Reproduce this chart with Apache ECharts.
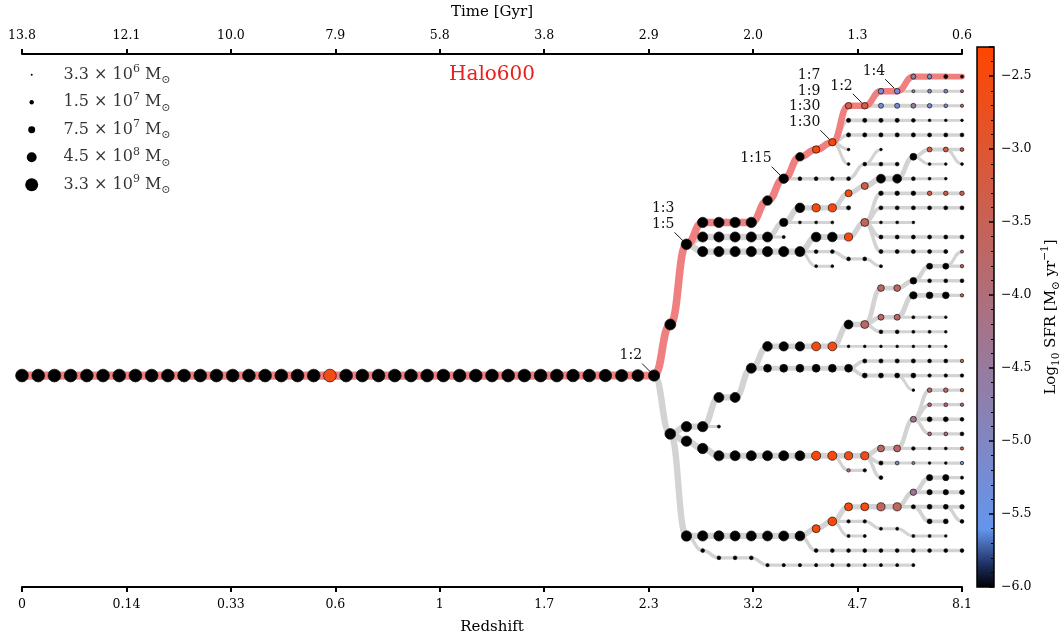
<!DOCTYPE html>
<html><head><meta charset="utf-8">
<script src="https://cdn.jsdelivr.net/npm/echarts@6.0.0/dist/echarts.min.js"></script>
<style>html,body{margin:0;padding:0;background:#fff}#c{width:1064px;height:644px}</style>
</head><body><div id="c"></div>
<script>
// ---------- axis tick labels ----------
const redshiftLabels = ['0','0.14','0.33','0.6','1','1.7','2.3','3.2','4.7','8.1'];
const timeLabels = ['13.8','12.1','10.0','7.9','5.8','3.8','2.9','2.0','1.3','0.6'];
const lastSnap = 58;

// ---------- size legend (halo masses, Msun) ----------
const legendMasses = [3.3e6, 1.5e7, 7.5e7, 4.5e8, 3.3e9];

// ---------- SFR colour map (log10 SFR -> colour) ----------
const cmapValues = [-6.0, -5.85, -5.6, -2.3];
const cmapColors = ['#000000', '#1c2c5c', '#6495ed', '#ff4500'];

const _ = null; // no star formation

// ---------- main progenitor branch, snapshots 0..58 ----------
const mainLanes = [41,41,41,41,41,41,41,41,41,41, 41,41,41,41,41,41,41,41,41,41,
                   41,41,41,41,41,41,41,41,41,41, 41,41,41,41,41,41,41,41,41,41,
                   34,23,20,20,20,20,17,14,11,10, 9,4,4,2,2,0,0,0,0];
const mainLogM = [9.45,9.45,9.45,9.45,9.45,9.45,9.45,9.45,9.45,9.45, 9.45,9.45,9.45,9.45,9.45,9.45,9.45,9.45,9.45,9.45,
                  9.45,9.45,9.45,9.45,9.45,9.45,9.45,9.45,9.45,9.45, 9.45,9.45,9.45,9.45,9.4,9.4,9.35,9.3,9.2,9.05,
                  8.95,8.85,8.8,8.8,8.8,8.8,8.55,8.55,8.3,8.0, 8.0,7.75,7.75,7.5,7.5,7.35,7.2,7.06,6.8];
const mainSFR = [_,_,_,_,_,_,_,_,_,_, _,_,_,_,_,_,_,_,_,-2.6,
                 _,_,_,_,_,_,_,_,_,_, _,_,_,_,_,_,_,_,_,_,
                 _,_,_,_,_,_,_,_,_,-2.45, -2.4,-3.3,-3.3,-5.3,-5.3,-4.5,-5.3,_,_];

// merger ratio annotations on the main branch
const mergerSnaps = [39, 41, 47, 50, 52, 54];
const mergerRatios = ['1:2', '1:3\n1:5', '1:15', '1:7\n1:9\n1:30\n1:30', '1:2', '1:4'];

// ---------- side branches: [first snapshot, lane of descendant, lanes, log10 mass, log10 SFR] ----------
const branches = [
 [40,41,[49],[8.9],_],
 [41,49,[48,48,44,44,40,37,37,37,37,37,34,34],[8.8,8.8,8.7,8.7,8.7,8.6,8.5,8.5,8.4,8.4,8.4,8.15],[_,_,_,_,_,_,_,_,-2.5,-2.5,_,-3.7]],
 [43,48,[48],[6.8],_],
 [46,40,[40,40,40,40,40,40],[8.1,8.1,8.1,8.1,8.1,8.1],_],
 [52,40,[39,39,39,39,39,39,39],[7.1,7.1,7.1,7.1,7.0,7.0,6.9],[_,_,_,_,_,_,-3.3]],
 [52,40,[41,41,41,41,41,41,41],[7.3,7.3,7.3,7.3,6.9,6.9,6.9],_],
 [55,41,[43],[6.7],_],
 [51,37,[37,37,37,37,37,37,37],[6.7,6.7,6.7,6.7,6.7,6.7,6.7],_],
 [53,34,[29,29,28],[7.8,7.8,7.8],[-3.7,-3.7,_]],
 [56,28,[26,26,26],[7.6,7.6,6.9],[_,_,-3.3]],
 [58,26,[24],[6.8],[-3.3]],
 [56,28,[28,28,28],[7.0,7.0,7.0],_],
 [53,34,[33,33,30,30,30,30],[7.6,7.6,8.0,7.8,7.8,6.9],[-3.7,-3.7,_,_,_,-3.4]],
 [55,33,[33,33,33],[6.8,6.8,6.7],_],
 [53,34,[35,35,35,35,35],[7.0,7.0,6.8,6.8,6.7],_],
 [41,49,[50,51,52,52,52,52,52,52,52,52,52,52],[8.8,8.8,8.75,8.7,8.7,8.7,8.7,8.65,8.45,8.45,8.2,8.2],[_,_,_,_,_,_,_,_,-2.45,-2.45,-2.6,-2.6]],
 [53,52,[51,51,47],[7.85,7.85,7.6],[-3.7,-3.7,-4.3]],
 [55,51,[51,51,51,51],[6.95,6.75,6.75,6.85],[_,_,_,-3.3]],
 [56,47,[43,43,43],[7.2,7.2,6.9],[-3.8,-3.8,-3.4]],
 [56,47,[45,45,45],[7.0,7.0,6.9],[-3.8,-3.8,-3.8]],
 [56,47,[47,47,47],[7.3,7.3,7.0],_],
 [56,47,[49,49,49],[7.0,7.0,7.0],[-3.8,-3.8,_]],
 [53,52,[53,53,53,53,53,53],[7.1,7.0,6.8,6.7,6.7,6.9],[_,-5.0,-4.5,_,_,-5.3]],
 [53,52,[55],[7.0],_],
 [51,52,[54,54],[6.9,6.9],[-3.9,_]],
 [41,49,[63,63,63,63,63,63,63,63],[8.8,8.75,8.75,8.7,8.7,8.7,8.7,8.65],_],
 [49,63,[62,61,59,59,59,59,57],[8.15,8.35,8.15,8.15,8.2,8.2,7.7],[-2.45,-2.45,-2.5,-2.5,-3.6,-3.6,-4.3]],
 [56,57,[55,55,55],[7.65,7.65,6.8],_],
 [56,57,[57,57,57],[7.4,7.4,7.3],_],
 [55,59,[59,59,59,59],[7.1,7.3,7.3,7.2],_],
 [56,59,[61,61],[7.3,7.3],_],
 [58,59,[61],[7.0],_],
 [51,61,[61,61,62,62,63,63,63],[6.9,6.9,6.8,6.8,6.8,6.8,6.7],_],
 [51,61,[63,63],[6.8,6.8],_],
 [49,63,[65,65,65,65,65,65,65,65,65,65],[7.0,7.0,7.0,7.0,7.0,7.0,7.0,7.0,7.0,7.0],_],
 [42,63,[65,66,66,66,67,67,67,67,67,67,67,67,67,67],[7.0,7.0,7.0,7.0,6.85,6.85,6.85,6.85,6.85,6.85,6.8,6.8,6.8,6.8],_],
 [42,23,[22,22,22,22,22],[8.75,8.75,8.75,8.75,8.7],_],
 [47,22,[20,18,18,18,16,15,14,14,11,10,10,10],[8.2,8.6,8.2,8.2,7.9,7.9,8.4,8.4,7.85,7.3,7.3,7.0],[_,_,-2.45,-2.45,-2.5,-3.3,_,_,_,-3.3,-3.3,-3.3]],
 [58,10,[12],[6.75],_],
 [56,11,[12,12],[6.75,6.7],_],
 [55,14,[14,14,14],[7.0,6.75,6.7],_],
 [51,18,[18],[7.1],_],
 [48,20,[20,20,20],[6.75,6.75,6.75],_],
 [47,22,[22],[6.8],_],
 [42,23,[24,24,24,24,24,24,24],[8.75,8.75,8.75,8.75,8.75,8.75,8.7],_],
 [49,24,[22,22,22,20],[8.6,8.6,8.2,8.15],[_,_,-2.45,-3.6]],
 [53,20,[16,16,16,16,16,16],[7.2,7.2,7.2,7.2,7.2,7.2],[_,_,_,-3.3,-3.3,-3.4]],
 [53,20,[18,18,18,18,18,18],[7.05,7.05,7.05,7.05,7.05,7.05],_],
 [53,20,[20,20,20],[6.75,6.75,6.7],_],
 [53,20,[22,22,22,22,22,22],[7.05,7.05,7.05,7.05,7.05,7.05],_],
 [53,20,[24,24,24,24,24],[7.05,7.05,7.05,7.05,7.05],_],
 [49,24,[24,24,25,25,26],[7.0,7.0,7.0,7.0,6.8],_],
 [49,24,[26,26],[6.75,6.75],_],
 [51,9,[6,6,6,6,6,6,6,6],[7.1,7.1,7.1,7.1,7.0,6.7,6.7,6.7],_],
 [51,9,[8,8,8,8,8,8,8,8],[7.1,7.1,7.1,7.1,7.1,7.05,7.05,7.0],_],
 [51,9,[10],[6.7],_],
 [51,9,[12],[6.75],_],
 [48,14,[14,14,14,14,12,12,12],[7.0,7.0,7.0,7.0,7.0,7.0,7.0],_],
 [53,12,[10],[6.7],_],
 [53,4,[4,4,4,4,4,4],[7.35,7.35,7.3,7.2,7.0,6.85],[-5.3,-5.3,-4.5,-5.2,-5.2,-3.4]],
 [55,2,[2,2,2,2],[6.8,7.0,7.0,6.8],[-4.7,-5.2,-5.2,-3.4]]
];

// ---------- helpers ----------
function diam(logM){ return Math.max(1.6, 2 + 3.67 * (logM - 6.52)); }
function hexToRgb(h){ return [1,3,5].map(i => parseInt(h.slice(i, i + 2), 16)); }
function sfrColor(v){
  if (v == null) return '#000000';
  const vs = cmapValues;
  if (v <= vs[0]) return cmapColors[0];
  if (v >= vs[vs.length - 1]) return cmapColors[cmapColors.length - 1];
  for (let i = 0; i < vs.length - 1; i++) {
    if (v <= vs[i + 1]) {
      const t = (v - vs[i]) / (vs[i + 1] - vs[i]);
      const a = hexToRgb(cmapColors[i]), b = hexToRgb(cmapColors[i + 1]);
      return 'rgb(' + a.map((x, k) => Math.round(x + (b[k] - x) * t)).join(',') + ')';
    }
  }
}

// ---------- build tables for the library ----------
const nodes = [], grayEdges = [], redEdges = [];
branches.forEach(([s0, from, lanes, ms, sfrs]) => {
  lanes.forEach((l, i) => {
    const s = s0 + i, pl = i === 0 ? from : lanes[i - 1];
    nodes.push([s, l, ms[i], sfrs ? sfrs[i] : null]);
    grayEdges.push([s - 1, pl, s, l, diam(ms[i])]);
  });
});
mainLanes.forEach((l, s) => {
  nodes.push([s, l, mainLogM[s], mainSFR[s]]);
  if (s > 0) redEdges.push([s - 1, mainLanes[s - 1], s, l, diam(mainLogM[s])]);
});

const tickPos = redshiftLabels.map((t, i) => i * lastSnap / (redshiftLabels.length - 1));
const labelIdx = v => Math.round(v * (redshiftLabels.length - 1) / lastSnap);

function edgeRenderer(color, widthFn){
  return function(params, api){
    const p1 = api.coord([api.value(0), api.value(1)]);
    const p2 = api.coord([api.value(2), api.value(3)]);
    const mx = (p1[0] + p2[0]) / 2;
    return {
      type: 'bezierCurve',
      shape: {x1: p1[0], y1: p1[1], x2: p2[0], y2: p2[1], cpx1: mx, cpy1: p1[1], cpx2: mx, cpy2: p2[1]},
      style: {stroke: color, lineWidth: widthFn(api.value(4)), fill: null, lineCap: 'round'}
    };
  };
}

const FONT = 'DejaVu Serif';
const cbMin = cmapValues[0], cbMax = cmapValues[cmapValues.length - 1];

function massRich(m){
  const e = Math.floor(Math.log10(m));
  const mant = (m / Math.pow(10, e)).toFixed(1);
  return '{n|' + mant + ' × 10}{sup|' + e + '}{n| M}{sub|⊙}';
}

const chart = echarts.init(document.getElementById('c'), null, {renderer: 'canvas'});
chart.setOption({
  animation: false,
  backgroundColor: '#ffffff',
  textStyle: {fontFamily: FONT, color: '#000'},
  grid: [
    {left: 22, top: 47, width: 940, height: 540},
    {left: 977, top: 47, width: 17, height: 540},
    {left: 20, top: 61, width: 180, height: 137.5}
  ],
  xAxis: [
    {type: 'value', gridIndex: 0, position: 'bottom', min: 0, max: lastSnap,
     name: 'Redshift', nameLocation: 'middle', nameGap: 33,
     nameTextStyle: {fontFamily: FONT, fontSize: 15, color: '#000'},
     axisLine: {show: true, onZero: false, lineStyle: {color: '#000', width: 2}},
     axisTick: {show: true, length: 5, lineStyle: {color: '#000', width: 2}, customValues: tickPos},
     axisLabel: {customValues: tickPos, margin: 11, fontFamily: FONT, fontSize: 12.5, color: '#000',
                 formatter: v => redshiftLabels[labelIdx(v)]},
     splitLine: {show: false}},
    {type: 'value', gridIndex: 0, position: 'top', min: 0, max: lastSnap,
     name: 'Time [Gyr]', nameLocation: 'middle', nameGap: 34,
     nameTextStyle: {fontFamily: FONT, fontSize: 15, color: '#000'},
     axisLine: {show: true, onZero: false, lineStyle: {color: '#000', width: 2}},
     axisTick: {show: true, length: 5, lineStyle: {color: '#000', width: 2}, customValues: tickPos},
     axisLabel: {customValues: tickPos, margin: 12, fontFamily: FONT, fontSize: 12.5, color: '#000',
                 formatter: v => timeLabels[labelIdx(v)]},
     splitLine: {show: false}},
    {type: 'value', gridIndex: 1, min: 0, max: 1, show: false},
    {type: 'value', gridIndex: 2, min: 0, max: 180, show: false}
  ],
  yAxis: [
    {type: 'value', gridIndex: 0, min: -3.1, max: 70, inverse: true, show: false},
    {type: 'value', gridIndex: 1, min: cbMin, max: cbMax, interval: 0.5, position: 'right', z: 10,
     name: '{n|Log}{sub|10}{n| SFR [M}{sub|⊙}{n| yr}{sup|−1}{n|]}', nameLocation: 'middle', nameRotate: 90, nameGap: 46,
     nameTextStyle: {fontFamily: FONT, fontSize: 15, color: '#000',
       rich: {n: {fontFamily: FONT, fontSize: 15, lineHeight: 22},
              sub: {fontFamily: FONT, fontSize: 10.5, lineHeight: 10, verticalAlign: 'bottom'},
              sup: {fontFamily: FONT, fontSize: 10.5, lineHeight: 10, verticalAlign: 'top'}}},
     axisLine: {show: false, onZero: false},
     axisTick: {show: true, inside: true, length: 5, lineStyle: {color: '#000', width: 1.5}},
     minorTick: {show: true, splitNumber: 5, length: 3, lineStyle: {color: '#000', width: 1}},
     axisLabel: {margin: 7, fontFamily: FONT, fontSize: 12.5, color: '#000', showMaxLabel: false,
                 formatter: v => (v < 0 ? '−' : '') + Math.abs(v).toFixed(1)},
     splitLine: {show: false}, minorSplitLine: {show: false}},
    {type: 'category', gridIndex: 2, data: legendMasses.map(String), inverse: true, show: false}
  ],
  graphic: [
    {type: 'text', x: 492, y: 75, style: {text: 'Halo600', fill: '#e8201c', font: '20px "DejaVu Serif"',
      align: 'center', verticalAlign: 'middle'}}
  ],
  series: [
    {type: 'custom', name: 'progenitors', xAxisIndex: 0, yAxisIndex: 0, silent: true, z: 1,
     dimensions: ['s1','l1','s2','l2','w'], encode: {x: [0, 2], y: [1, 3]},
     data: grayEdges, renderItem: edgeRenderer('#d3d3d3', d => 1.7 + 0.45 * d)},
    {type: 'custom', name: 'main', xAxisIndex: 0, yAxisIndex: 0, silent: true, z: 2,
     dimensions: ['s1','l1','s2','l2','w'], encode: {x: [0, 2], y: [1, 3]},
     data: redEdges, renderItem: edgeRenderer('#f08080', d => 5 + 0.25 * d)},
    {type: 'scatter', name: 'halos', xAxisIndex: 0, yAxisIndex: 0, silent: true, z: 3,
     data: nodes.map(n => ({value: [n[0], n[1]], symbolSize: diam(n[2]),
       itemStyle: {color: sfrColor(n[3]), borderColor: '#111', borderWidth: 0.7, opacity: 1}}))},
    {type: 'custom', name: 'ratios', xAxisIndex: 0, yAxisIndex: 0, silent: true, z: 4,
     data: mergerSnaps.map(s => [s, mainLanes[s]]),
     renderItem: (params, api) => {
       const p = api.coord([api.value(0), api.value(1)]);
       return {type: 'group', children: [
         {type: 'line', shape: {x1: p[0] - 3, y1: p[1] - 3, x2: p[0] - 12, y2: p[1] - 12},
          style: {stroke: '#000', lineWidth: 0.9}},
         {type: 'text', style: {text: mergerRatios[params.dataIndex], x: p[0] - 12, y: p[1] - 12,
          align: 'right', verticalAlign: 'bottom', fontFamily: FONT, fontSize: 14, lineHeight: 15.7, fill: '#111'}}
       ]};
     }},
    {type: 'custom', name: 'colorbar', xAxisIndex: 2, yAxisIndex: 1, silent: true, z: 2,
     data: [[0, cbMin]],
     renderItem: (params, api) => {
       const a = api.coord([0, cbMin]), b = api.coord([1, cbMax]);
       const stops = cmapValues.map((v, i) => ({offset: (v - cbMin) / (cbMax - cbMin), color: cmapColors[i]}));
       return {type: 'rect', shape: {x: a[0], y: b[1], width: b[0] - a[0], height: a[1] - b[1]},
         style: {fill: new echarts.graphic.LinearGradient(0, 1, 0, 0, stops), stroke: '#000', lineWidth: 1.5}};
     }},
    {type: 'scatter', name: 'legendMarkers', xAxisIndex: 3, yAxisIndex: 2, silent: true,
     data: legendMasses.map((m, i) => ({value: [11.7, i], symbolSize: diam(Math.log10(m))})),
     itemStyle: {color: '#000', opacity: 1}},
    {type: 'scatter', name: 'legendText', xAxisIndex: 3, yAxisIndex: 2, silent: true,
     symbolSize: 1, itemStyle: {color: 'rgba(0,0,0,0)'},
     data: legendMasses.map((m, i) => [43, i]),
     label: {show: true, position: 'right', distance: 0,
       formatter: p => massRich(legendMasses[p.dataIndex]),
       rich: {n: {fontFamily: FONT, fontSize: 16, lineHeight: 22, color: '#000'},
              sup: {fontFamily: FONT, fontSize: 11, lineHeight: 11, verticalAlign: 'top', color: '#000'},
              sub: {fontFamily: FONT, fontSize: 11, lineHeight: 11, verticalAlign: 'bottom', color: '#000'}}}}
  ]
});
</script></body></html>
